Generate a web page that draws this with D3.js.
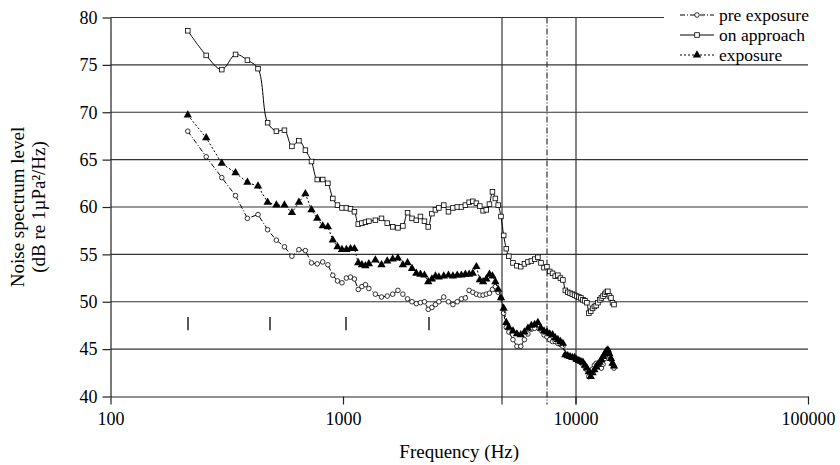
<!DOCTYPE html>
<html>
<head>
<meta charset="utf-8">
<script src="https://cdn.jsdelivr.net/npm/d3@7"></script>
<style>
body { margin:0; background:#fff; }
svg text { font-family:'Liberation Serif', 'Times New Roman', serif; fill:#000; }
</style>
</head>
<body>
<svg width="840" height="465"></svg>
<script>

// Chart values.

var freqHz = [
 215, 258, 301, 345, 388, 431, 474, 517, 560, 603,
 646, 689, 732, 775, 818, 861, 904, 947, 990, 1034,
 1077, 1120, 1163, 1206, 1249, 1292, 1378, 1464, 1550, 1636,
 1723, 1809, 1895, 1981, 2067, 2153, 2240, 2326, 2412, 2498,
 2584, 2713, 2842, 2971, 3100, 3230, 3359, 3488, 3617, 3747,
 3876, 4005, 4134, 4264, 4393, 4522, 4651, 4780, 4909, 5039,
 5168, 5383, 5598, 5814, 6029, 6244, 6460, 6675, 6890, 7106,
 7321, 7536, 7751, 7967, 8182, 8397, 8613, 8828, 9043, 9259,
 9474, 9689, 9905, 10120, 10335, 10551, 10766, 10982, 11197, 11412,
 11628, 11843, 12059, 12274, 12489, 12705, 12920, 13135, 13351, 13566,
 13781, 13997, 14212, 14427, 14643];

var preExposure = [
 68.0, 65.3, 63.1, 61.2, 58.8, 59.2, 57.6, 56.5, 55.8, 54.8,
 55.5, 55.4, 54.1, 54.0, 54.2, 53.9, 52.8, 52.2, 52.0, 52.5,
 52.6, 52.4, 51.3, 51.6, 51.8, 51.4, 50.8, 50.5, 50.6, 50.8,
 51.2, 50.8, 50.3, 50.0, 49.8, 49.9, 50.0, 49.2, 49.4, 49.7,
 50.0, 50.5, 50.0, 49.7, 50.0, 50.3, 50.4, 51.2, 51.0, 50.8,
 50.7, 50.7, 50.8, 50.9, 51.3, 51.6, 51.0, 50.4, 48.8, 47.3,
 46.8, 46.0, 45.3, 45.3, 46.0, 46.6, 47.1, 47.2, 47.5, 47.0,
 46.5, 46.3, 46.0, 45.8, 45.8, 45.6, 45.5, 45.3, 44.4, 44.3,
 44.2, 44.1, 44.0, 43.9, 43.8, 43.6, 43.4, 43.1, 42.8, 42.1,
 42.4, 42.9, 43.3, 43.5, 43.4, 43.2, 43.0, 43.4, 44.0, 44.6,
 44.9, 44.3, 43.9, 43.4, 43.0];

var onApproach = [
 78.6, 76.0, 74.5, 76.1, 75.5, 74.6, 68.9, 68.0, 68.1, 66.4,
 67.0, 66.0, 64.8, 62.9, 62.9, 62.5, 60.9, 60.2, 59.9, 59.9,
 59.8, 59.5, 58.2, 58.3, 58.4, 58.5, 58.6, 58.8, 58.3, 57.9,
 57.8, 58.0, 59.4, 58.8, 58.6, 59.0, 58.5, 57.9, 59.3, 59.7,
 59.9, 60.2, 59.5, 59.9, 60.0, 60.0, 60.2, 60.5, 60.6, 60.4,
 60.1, 59.6, 59.7, 60.3, 61.6, 60.9, 60.2, 59.0, 57.0, 55.6,
 54.8, 54.1, 53.8, 53.7, 54.0, 54.2, 54.3, 54.5, 54.7, 54.1,
 53.6, 53.7, 53.2, 53.0, 52.7, 52.8, 52.5, 52.3, 51.2, 51.0,
 50.9, 50.8, 50.7, 50.6, 50.5, 50.4, 50.2, 50.1, 49.9, 48.8,
 49.0, 49.3, 49.5, 49.6, 49.9, 50.2, 50.4, 50.6, 50.8, 51.0,
 51.1, 50.6, 50.4, 49.9, 49.7];

var exposure = [
 69.7, 67.3, 64.6, 63.6, 62.6, 62.2, 60.5, 60.2, 60.2, 59.4,
 60.5, 61.4, 59.7, 58.8, 58.0, 57.9, 56.5, 55.8, 55.5, 55.5,
 55.6, 55.6, 54.1, 53.9, 53.8, 54.0, 54.4, 53.9, 54.3, 54.5,
 54.6, 53.9, 54.1, 53.5, 53.0, 52.9, 52.8, 52.1, 52.4, 52.7,
 52.6, 52.7, 52.8, 52.7, 52.8, 52.8, 52.9, 52.9, 53.0, 53.7,
 52.3, 52.1, 52.4, 52.9, 52.7, 52.1, 51.3, 50.4, 49.3, 47.8,
 47.3, 46.9, 46.6, 46.5, 46.8, 47.2, 47.5, 47.6, 47.8, 47.2,
 46.9, 46.8, 46.6, 46.5, 46.2, 46.0, 45.8, 45.6, 44.4, 44.3,
 44.2, 44.1, 44.1, 43.9, 43.8, 43.7, 43.6, 43.3, 43.0, 42.6,
 42.1, 42.5, 42.8, 43.1, 43.4, 43.6, 43.9, 44.2, 44.5, 44.8,
 44.9, 44.5, 44.0, 43.5, 43.2];

var xTicks = [100, 1000, 10000, 100000];
var yTicks = [40, 45, 50, 55, 60, 65, 70, 75, 80];

// Reference lines (solid, dash-dot, solid) and the short band marks.

var refLines = [4800, 7500, 10000];
var refDash = [null, '6,2,1,2', null];
var bandMarks = [214, 483, 1025, 2333];
var bandRange = [47.0, 48.4];

var seriesNames = ['pre exposure', 'on approach', 'exposure'];

// Select the SVG and apply basic formatting.

var svg = d3.select('svg');
var margin = {top:17.5, right:32, bottom:68.5, left:110.5};
var width = svg.attr('width') - margin.left - margin.right;
var height = svg.attr('height') - margin.top - margin.bottom;
var graphic = svg.append('g').attr('transform', 'translate(' + margin.left + ',' + margin.top + ')');

var x = d3.scaleLog()
.domain([100, 100000])
.range([0, width]);

var y = d3.scaleLinear()
.domain([40, 80])
.range([height, 0]);

// Horizontal gridlines.

graphic.append('g')
.selectAll('line')
.data(yTicks.slice(1))
.enter().append('line')
.attr('x1', 0)
.attr('x2', width)
.attr('y1', function(d) { return y(d); })
.attr('y2', function(d) { return y(d); })
.attr('stroke', '#333')
.attr('stroke-width', 1.2);

// Vertical reference lines.

graphic.append('g')
.selectAll('line')
.data(refLines)
.enter().append('line')
.attr('x1', function(d) { return Math.round(x(d)) + 0.5; })
.attr('x2', function(d) { return Math.round(x(d)) + 0.5; })
.attr('y1', y(80))
.attr('y2', height + 8)
.attr('stroke', '#333')
.attr('stroke-width', 1.2)
.attr('stroke-dasharray', function(d, i) { return refDash[i]; });

// Band marks.

graphic.append('g')
.selectAll('line')
.data(bandMarks)
.enter().append('line')
.attr('x1', function(d) { return Math.round(x(d)) + 0.5; })
.attr('x2', function(d) { return Math.round(x(d)) + 0.5; })
.attr('y1', y(bandRange[0]))
.attr('y2', y(bandRange[1]))
.attr('stroke', '#000')
.attr('stroke-width', 1.3);

// Build the series.

var series = [
 {name:seriesNames[0], values:preExposure, dash:'5,2,1,2', curve:d3.curveLinear, mark:'circle'},
 {name:seriesNames[1], values:onApproach, dash:null, curve:d3.curveCatmullRom, mark:'square'},
 {name:seriesNames[2], values:exposure, dash:'2,2', curve:d3.curveLinear, mark:'triangle'}
];

var line = d3.line()
.x(function(d) { return x(d[0]); })
.y(function(d) { return y(d[1]); });

function drawMark(sel, type) {
 if(type == 'square') {
  sel.append('rect')
  .attr('x', -2.3).attr('y', -2.3)
  .attr('width', 4.6).attr('height', 4.6)
  .attr('fill', '#fff').attr('stroke', '#000').attr('stroke-width', 0.8);
 } else if(type == 'circle') {
  sel.append('circle')
  .attr('r', 2.3)
  .attr('fill', '#fff').attr('stroke', '#000').attr('stroke-width', 0.8);
 } else {
  sel.append('path')
  .attr('d', d3.symbol().type(d3.symbolTriangle).size(30))
  .attr('fill', '#000');
 }
}

series.forEach(function(s) {
 var pts = freqHz.map(function(f, i) { return [f, s.values[i]]; });

 graphic.append('path')
 .datum(pts)
 .attr('fill', 'none')
 .attr('stroke', '#000')
 .attr('stroke-width', 1)
 .attr('stroke-dasharray', s.dash)
 .attr('d', line.curve(s.curve));

 var marks = graphic.append('g')
 .selectAll('g')
 .data(pts)
 .enter().append('g')
 .attr('transform', function(d) { return 'translate(' + x(d[0]) + ',' + y(d[1]) + ')'; });
 drawMark(marks, s.mark);
});

// Draw the axes.

var yAxis = graphic.append('g')
.call(d3.axisLeft(y)
.tickValues(yTicks)
.tickSize(8)
.tickSizeOuter(0)
.tickPadding(5));

var xAxis = graphic.append('g')
.attr('transform', 'translate(0,' + height + ')')
.call(d3.axisBottom(x)
.tickValues(xTicks)
.tickFormat(d3.format('d'))
.tickSize(8)
.tickSizeOuter(0)
.tickPadding(5));

[yAxis, xAxis].forEach(function(a) {
 a.attr('font-family', null).attr('font-size', null);
 a.selectAll('text').style('font-size', '18px');
 a.selectAll('line').attr('stroke', '#222').attr('stroke-width', 1.2);
 a.select('.domain').attr('stroke', '#222').attr('stroke-width', 1.2);
});
xAxis.selectAll('text').attr('dy', '0.85em');

// Axis titles.

svg.append('text')
.attr('x', margin.left + width / 2)
.attr('y', 458)
.attr('text-anchor', 'middle')
.style('font-size', '19px')
.text('Frequency (Hz)');

var yTitle = svg.append('text')
.attr('transform', 'translate(24,' + (margin.top + height / 2) + ') rotate(-90)')
.attr('text-anchor', 'middle')
.style('font-size', '19px');
yTitle.append('tspan').attr('x', 0).attr('dy', 0).text('Noise spectrum level');
yTitle.append('tspan').attr('x', 0).attr('dy', '1.1em').text('(dB re 1µPa²/Hz)');

// Draw the legend.

var legendBox = svg.append('g').attr('class', 'legend');

legendBox.append('rect')
.attr('x', 664)
.attr('y', 0)
.attr('width', 176)
.attr('height', 63)
.attr('fill', '#fff');

var legend = legendBox.selectAll('g')
.data(series)
.enter().append('g')
.attr('transform', function(d, i) { return 'translate(0,' + (15 + i * 20) + ')'; });

legend.append('line')
.attr('x1', 680)
.attr('x2', 714)
.attr('stroke', '#000')
.attr('stroke-width', 1)
.attr('stroke-dasharray', function(d) { return d.dash; });

legend.each(function(d) {
 drawMark(d3.select(this).append('g').attr('transform', 'translate(697,0)'), d.mark);
});

legend.append('text')
.attr('x', 719)
.attr('dy', '0.32em')
.style('font-size', '17.5px')
.text(function(d) { return d.name; });

</script>
</body>
</html>
